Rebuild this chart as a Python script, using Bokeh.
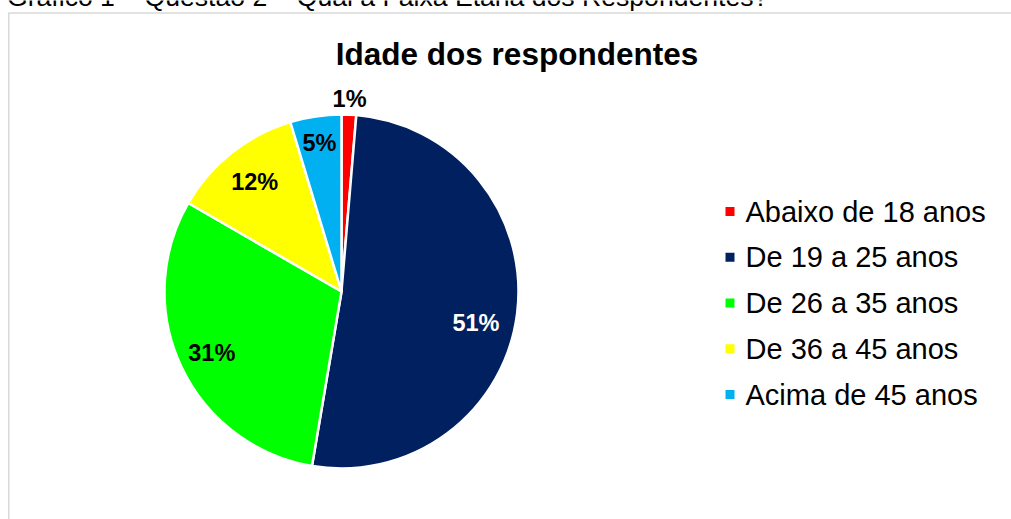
import numpy as np
from bokeh.plotting import figure
from bokeh.models import Range1d, ColumnDataSource
from bokeh.core.properties import value
from bokeh.embed import file_html
from bokeh.resources import INLINE

# ---- data ----
categories = ["Abaixo de 18 anos", "De 19 a 25 anos", "De 26 a 35 anos",
              "De 36 a 45 anos", "Acima de 45 anos"]
counts = [2, 77, 46, 18, 7]
pct_labels = ["1%", "51%", "31%", "12%", "5%"]
colors = ["#FF0000", "#002060", "#00FF00", "#FFFF00", "#00B0F0"]
label_colors = ["black", "white", "black", "black", "black"]
title_text = "Idade dos respondentes"
caption_text = "Gráfico 1 – Questão 2 – Qual a Faixa Etária dos Respondentes?"

# ---- layout ----
W, H = 1011, 519
FONT = "Liberation Sans"
cx, cy, R = 341, H - 291, 177
label_r = [1.09, 0.78, 0.81, 0.79, 0.85]
label_nudge_deg = [0, -6, 0, 0, 0]

p = figure(width=W, height=H, x_range=Range1d(0, W), y_range=Range1d(0, H),
           output_backend="svg", toolbar_location=None, min_border=0,
           x_axis_location=None, y_axis_location=None)
p.grid.visible = False
p.outline_line_color = None
p.background_fill_color = "white"
p.border_fill_color = "white"

# frame border of the embedded chart
p.quad(left=[8.3], right=[W + 20], top=[H - 12.5], bottom=[-20],
       fill_color=None, line_color="#d9d9d9", line_width=1.5)

# caption (partly cut off at the top, as in the source)
p.text(x=[6.5], y=[H + 3.5], text=[caption_text], text_font=value(FONT),
       text_font_size="26.6px", text_color="black", text_baseline="middle",
       text_align="left")

# title
p.text(x=[516.5], y=[H - 53], text=[title_text], text_font=value(FONT),
       text_font_size="31.5px", text_font_style="bold", text_color="black",
       text_baseline="middle", text_align="center")

# pie
vals = np.array(counts, dtype=float)
frac = vals / vals.sum()
cum = np.cumsum(frac)
start = np.pi / 2 - 2 * np.pi * (cum - frac)
end = np.pi / 2 - 2 * np.pi * cum
src = ColumnDataSource(dict(start=start, end=end, color=colors, cat=categories))
p.wedge(x=cx, y=cy, radius=R, start_angle="start", end_angle="end",
        direction="clock", fill_color="color", line_color="white",
        line_width=2.5, source=src)

mid = (start + end) / 2 + np.radians(label_nudge_deg)
lx = cx + R * np.array(label_r) * np.cos(mid)
ly = cy + R * np.array(label_r) * np.sin(mid)
p.text(x=lx, y=ly, text=pct_labels, text_color=label_colors,
       text_font=value(FONT), text_font_size="23.5px", text_font_style="bold",
       text_align="center", text_baseline="middle")

# legend
row0, row_gap = 211, 45.75
ry = [H - (row0 + i * row_gap) for i in range(len(categories))]
p.scatter(x=[729.5] * len(categories), y=ry, marker="square", size=9,
          fill_color=colors, line_color=None)
p.text(x=[745] * len(categories), y=ry, text=categories, text_font=value(FONT),
       text_font_size="29px", text_color="black", text_align="left",
       text_baseline="middle")

open("out.html", "w").write(file_html(p, INLINE))
